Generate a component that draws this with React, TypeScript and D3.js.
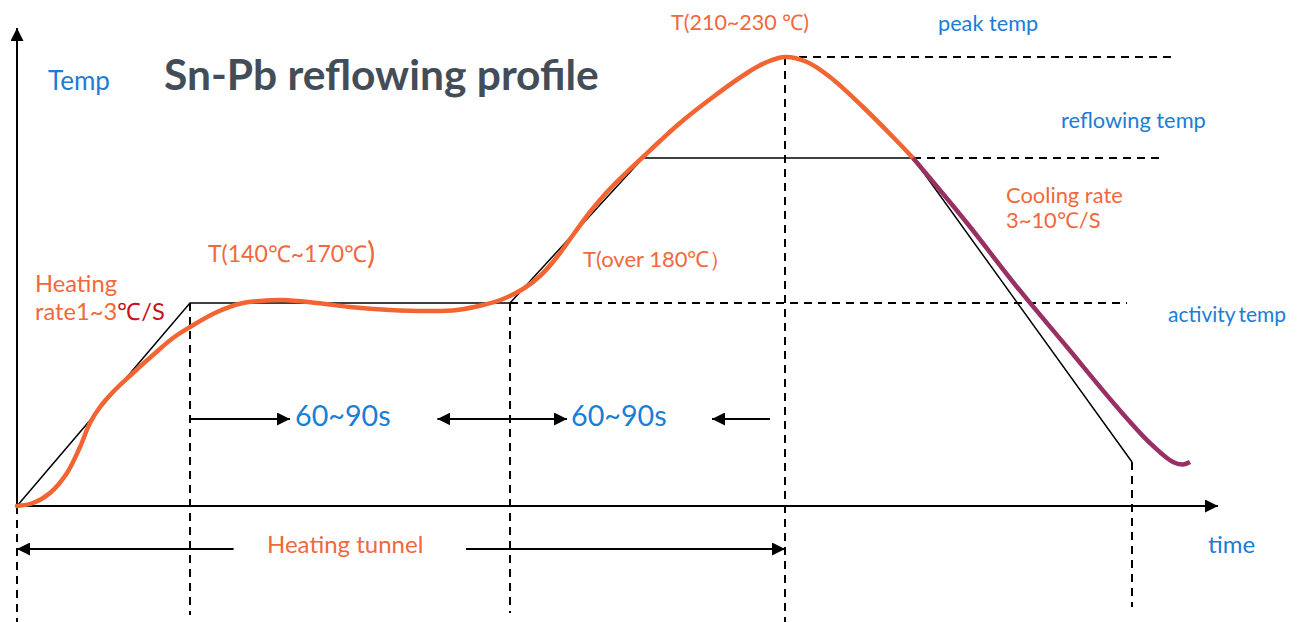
import * as d3 from "d3";

// heating curve (time in s-ish units, temp in °C-ish units)
const heatTime = [0, 4, 8.25, 12.5, 15.75, 18.25, 20.75, 24, 29, 34, 39, 43.25, 50, 56.5, 60.75, 66.5, 75, 83.25, 93.25, 103.25, 110, 116.5, 121.5, 126.5, 130.75, 135, 139, 143.25, 147.5, 152.5, 156.5, 160.75, 165.75, 174, 182.5, 187.5, 192, 197.5, 203.25, 211.5, 219, 224];
const heatTemp = [0, 1.5, 6.5, 16.5, 29.5, 41.5, 49.5, 57, 66.5, 75.5, 84, 89.5, 97, 101.5, 102.5, 103, 101.5, 99.5, 98, 97.5, 98, 100.5, 103.5, 108.5, 115, 124.5, 135.5, 147, 157, 167, 174.5, 182.5, 191.5, 204.5, 216.5, 222, 224.5, 222, 214.5, 199.5, 184.5, 174];

// cooling curve
const coolTime = [224, 237.5, 250, 262.5, 275, 283.25, 289, 291.5, 293.25];
const coolTemp = [174, 141.5, 109.5, 79.5, 49.5, 31.5, 22, 20.8, 22];

// ideal profile (black)
const idealTime = [0, 43.25, 123.25, 156.5, 224, 278.75];
const idealTemp = [0, 101.5, 101.5, 174, 174, 22];

// reference levels
const activityTemp = 101.5;
const reflowTemp = 174;
const peakTemp = 224.5;
const peakTime = 192;

// dashed guides [time, temp from, temp to]
const guideTime = [0, 43.25, 123.25, 192, 278.75];
const guideTop = [0, 101.5, 101.5, 224.5, 22];
const guideBottom = [-58, -54.5, -53.5, -58, -50.5];

// arrows
const spanRow = 43.5;
const tunnelRow = -21.5;

const x = d3.scaleLinear().domain([0, 300]).range([17, 1217]);
const y = d3.scaleLinear().domain([-58, 240]).range([622, 26]);

const ORANGE = "#f26532";
const ORANGE_TXT = "#f0683c";
const BLUE = "#1a7dd6";
const PURPLE = "#983063";
const RED = "#c8101f";
const FONT = "Lato, 'Open Sans', sans-serif";

const line = d3
  .line<[number, number]>()
  .x((d) => x(d[0]))
  .y((d) => y(d[1]));

const smooth = d3
  .line<[number, number]>()
  .x((d) => x(d[0]))
  .y((d) => y(d[1]))
  .curve(d3.curveCatmullRom.alpha(0.5));

const zip = (a: number[], b: number[]) => a.map((v, i) => [v, b[i]] as [number, number]);

const App = () => {
  const dash = "8,6";
  const hline = (t0: number, t1: number, T: number) => line([[t0, T], [t1, T]]) || "";

  return (
    <svg width={1300} height={622} style={{ position: "absolute", left: 0, top: 0, background: "#fff" }}>
      <defs>
        <marker id="ah" viewBox="0 0 13 13" markerWidth={13} markerHeight={13} refX={13} refY={6.5}
          markerUnits="userSpaceOnUse" orient="auto-start-reverse">
          <path d="M0,0 L13,6.5 L0,13 Z" fill="#000" />
        </marker>
      </defs>

      {/* axes */}
      <path d={line([[0, 0], [0, 239]]) || ""} stroke="#000" strokeWidth={2} markerEnd="url(#ah)" fill="none" />
      <path d={line([[0, 0], [300.25, 0]]) || ""} stroke="#000" strokeWidth={2} markerEnd="url(#ah)" fill="none" />

      {/* dashed guides */}
      <g stroke="#000" strokeWidth={1.5} strokeDasharray={dash} fill="none" shapeRendering="crispEdges">
        {guideTime.map((t, i) => (
          <path key={i} d={line([[t, guideTop[i]], [t, guideBottom[i]]]) || ""} />
        ))}
        <path d={hline(123.25, 277.5, activityTemp)} />
        <path d={hline(224, 286.25, reflowTemp)} />
        <path d={hline(peakTime, 289.5, peakTemp)} />
      </g>

      {/* ideal profile */}
      <path d={line(zip(idealTime, idealTemp)) || ""} stroke="#000" strokeWidth={1.5} fill="none" />

      {/* real profile */}
      <path d={smooth(zip(heatTime, heatTemp)) || ""} stroke={ORANGE} strokeWidth={4.5} fill="none" strokeLinecap="round" />
      <path d={smooth(zip(coolTime, coolTemp)) || ""} stroke={PURPLE} strokeWidth={4.5} fill="none" strokeLinecap="butt" />

      {/* span arrows */}
      <g stroke="#000" strokeWidth={2} fill="none">
        <path d={hline(43.25, 68.25, spanRow)} markerEnd="url(#ah)" />
        <path d={hline(105.1, 137.5, spanRow)} markerStart="url(#ah)" markerEnd="url(#ah)" />
        <path d={hline(188.25, 173.75, spanRow)} markerEnd="url(#ah)" />
        <path d={hline(54.15, 0, tunnelRow)} markerEnd="url(#ah)" />
        <path d={hline(112.25, 192, tunnelRow)} markerEnd="url(#ah)" />
      </g>

      {/* texts */}
      <g fontFamily={FONT}>
        <text x={48} y={90} fill={BLUE} fontSize={26}>Temp</text>
        <text x={164} y={90} fill="#434d57" fontSize={42.5} fontWeight="bold">Sn-Pb reflowing profile</text>
        <text x={671} y={30} fill={ORANGE_TXT} fontSize={21.5}>T(210~230 ℃)</text>
        <text x={938} y={31} fill={BLUE} fontSize={21.7}>peak temp</text>
        <text x={1061} y={128} fill={BLUE} fontSize={21.8}>reflowing temp</text>
        <text x={1006} y={203} fill={ORANGE_TXT} fontSize={21.9}>Cooling rate</text>
        <text x={1006} y={228} fill={ORANGE_TXT} fontSize={21.9}>3~10℃/S</text>
        <text x={1168} y={322} fill={BLUE} fontSize={21}>
          activity<tspan dx={-2}> temp</tspan>
        </text>
        <text x={35} y={292} fill={ORANGE_TXT} fontSize={23.7}>Heating</text>
        <text x={35} y={320} fill={ORANGE_TXT} fontSize={23.7}>
          rate1~3<tspan fill={RED}>℃/S</tspan>
        </text>
        <text x={208} y={262} fill={ORANGE_TXT} fontSize={23}>
          T(140℃~170℃<tspan fontSize={31} dy={2}>)</tspan>
        </text>
        <text x={583} y={267} fill={ORANGE_TXT} fontSize={22}>T(over 180℃）</text>
        <text x={295} y={426} fill={BLUE} fontSize={28.7}>60~90s</text>
        <text x={571} y={426} fill={BLUE} fontSize={28.7}>60~90s</text>
        <text x={267} y={553} fill={ORANGE_TXT} fontSize={24}>Heating tunnel</text>
        <text x={1208} y={553} fill={BLUE} fontSize={24}>time</text>
      </g>
    </svg>
  );
};

export default App;
